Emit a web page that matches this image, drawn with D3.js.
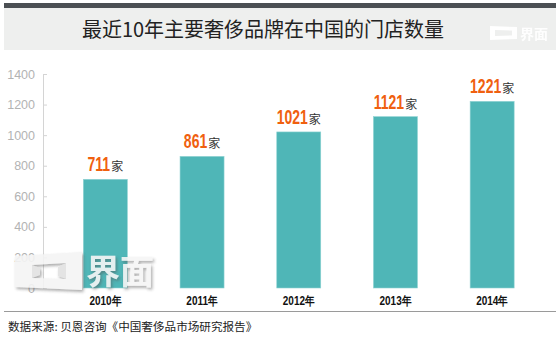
<!DOCTYPE html>
<html>
<head>
<meta charset="utf-8">
<script src="https://cdn.jsdelivr.net/npm/d3@7"></script>
<style>
  html, body { margin: 0; padding: 0; background: #fff; }
  svg { display: block; }
</style>
</head>
<body>
<svg id="chart" width="560" height="340"></svg>
<script>
// Store counts of major luxury brands in China, by year
const years = ["2010年", "2011年", "2012年", "2013年", "2014年"];
const storeCounts = [711, 861, 1021, 1121, 1221];
const yTicks = [0, 200, 400, 600, 800, 1000, 1200, 1400];
const unitLabel = "家";
const titleText = "最近10年主要奢侈品牌在中国的门店数量";
const sourceText = "数据来源: 贝恩咨询《中国奢侈品市场研究报告》";

const svg = d3.select("#chart");
const cjk = "'Noto Sans CJK SC', 'Microsoft YaHei', sans-serif";
const sans = "'Liberation Sans', Arial, sans-serif";

// Header band
svg.append("rect").attr("x", 4).attr("y", 3).attr("width", 552).attr("height", 5).attr("fill", "#4b4f53");
svg.append("rect").attr("x", 4).attr("y", 8).attr("width", 552).attr("height", 42).attr("fill", "#eeefee");
svg.append("text")
  .attr("x", 263).attr("y", 37)
  .attr("text-anchor", "middle")
  .style("font-family", cjk).style("font-size", "20px").attr("fill", "#222")
  .text(titleText);

// Small brand mark in the header
const mark = svg.append("g").attr("fill", "#fff").attr("opacity", 0.95);
mark.append("path")
  .attr("fill-rule", "evenodd")
  .attr("d", "M490,26 L517,27 L517,39 L490,40 Z M495,30 L512,30.5 L512,35.5 L495,36 Z");
mark.append("text").attr("x", 520).attr("y", 39)
  .style("font-family", cjk).style("font-size", "14px").style("font-weight", "bold")
  .text("界面");

// Scales
const x = d3.scaleBand()
  .domain(years)
  .range([57, 540.5])
  .paddingInner(0.545)
  .paddingOuter(0.2725);

const y = d3.scaleLinear().domain([0, 1400]).range([288, 74]);

// Y axis with inward ticks
const yAxis = svg.append("g")
  .attr("transform", "translate(43,0)")
  .call(d3.axisLeft(y).tickValues(yTicks).tickFormat(d3.format("d"))
    .tickSize(-4).tickSizeOuter(0).tickPadding(8));
yAxis.select(".domain").attr("stroke", "#d4d4d4");
yAxis.selectAll(".tick line").attr("stroke", "#d4d4d4");
yAxis.selectAll(".tick text")
  .attr("fill", "#b3b3b3")
  .style("font-family", sans)
  .style("font-size", "12.5px");

// Bars
const data = years.map((yr, i) => ({ year: yr, value: storeCounts[i] }));
svg.append("g").selectAll("rect")
  .data(data)
  .join("rect")
  .attr("x", d => x(d.year))
  .attr("y", d => y(d.value))
  .attr("width", x.bandwidth())
  .attr("height", d => y(0) - y(d.value))
  .attr("fill", "#4fb6b7")
  .attr("stroke", "#8fd3d3")
  .attr("stroke-width", 0.6);

// Value labels above bars: condensed bold numerals followed by the unit,
// centred together over each bar
const numScale = 0.7;
const labels = svg.append("g").selectAll("g")
  .data(data)
  .join("g");
labels.each(function (d) {
  const g = d3.select(this);
  const num = g.append("text")
    .style("font-family", sans).style("font-weight", "bold").style("font-size", "20px")
    .attr("fill", "#f0600f")
    .text(d.value);
  const unit = g.append("text")
    .style("font-family", cjk).style("font-size", "12px")
    .attr("fill", "#333")
    .text(unitLabel);
  const numW = num.node().getComputedTextLength() * numScale;
  const unitW = unit.node().getComputedTextLength();
  const gap = 1;
  const total = numW + gap + unitW;
  const cx = x(d.year) + x.bandwidth() / 2;
  const base = y(d.value) - 8;
  const left = cx - total / 2;
  num.attr("transform", `translate(${left},${base}) scale(${numScale},1)`);
  unit.attr("x", left + numW + gap).attr("y", base);
});

// Category labels
svg.append("g").selectAll("g")
  .data(years)
  .join("g")
  .attr("transform", d => `translate(${x(d) + x.bandwidth() / 2},305)`)
  .append("text")
  .attr("text-anchor", "middle")
  .attr("transform", "scale(0.8,1)")
  .style("font-family", sans).style("font-weight", "bold").style("font-size", "12.5px")
  .attr("fill", "#111")
  .text(d => d);

// Footer rule and source
svg.append("line").attr("x1", 4).attr("x2", 556).attr("y1", 311.5).attr("y2", 311.5)
  .attr("stroke", "#9a9a9a").attr("stroke-width", 1.2);
svg.append("text").attr("x", 8).attr("y", 331)
  .style("font-family", cjk).style("font-size", "11.6px").attr("fill", "#222")
  .text(sourceText);

// Watermark brand mark in the lower left
const defs = svg.append("defs");
const shadow = defs.append("filter").attr("id", "wmShadow").attr("x", "-20%").attr("y", "-20%").attr("width", "150%").attr("height", "150%");
shadow.append("feDropShadow").attr("dx", 1.5).attr("dy", 2).attr("stdDeviation", 1.8)
  .attr("flood-color", "#555").attr("flood-opacity", 0.55);

const wm = svg.append("g").attr("filter", "url(#wmShadow)").attr("opacity", 0.9);
wm.append("path")
  .attr("fill", "#f4f4f4")
  .attr("fill-rule", "evenodd")
  .attr("d", "M15,256 L82,252 L82,290 L15,287 Z M32,265 L66,263 L66,279 L32,278 Z");
wm.append("path")
  .attr("fill", "#e2e2e2")
  .attr("d", "M32,265 L40,268 L40,275 L32,278 Z M66,263 L58,267 L58,276 L66,279 Z");
wm.append("text").attr("x", 86).attr("y", 284)
  .style("font-family", cjk).style("font-size", "34px").style("font-weight", "bold")
  .attr("fill", "#f6f6f6")
  .text("界面");
</script>
</body>
</html>
